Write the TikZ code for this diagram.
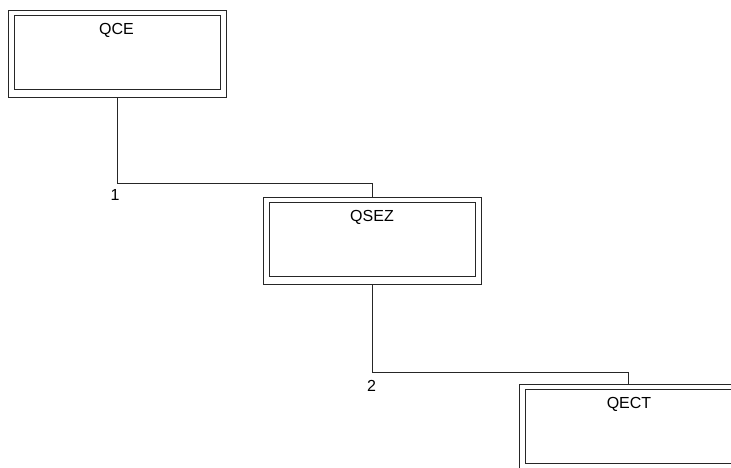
\documentclass[tikz,border=0pt]{standalone}
\usepackage{fontspec}
\setmainfont{Liberation Sans}
\begin{document}
\begin{tikzpicture}[x=1pt,y=-1pt,
  outerbox/.style={draw=black!85,line width=0.8pt,minimum width=218pt,minimum height=87pt,inner sep=0pt},
  innerbox/.style={draw=black!85,line width=0.8pt,minimum width=206pt,minimum height=74pt,inner sep=0pt},
  boxtext/.style={font=\fontsize{16}{18}\selectfont,inner sep=0pt,anchor=base},
  conn/.style={draw=black!85,line width=0.8pt},
  lbl/.style={font=\fontsize{16}{18}\selectfont,inner sep=0pt,anchor=base}]
\clip (0,0) rectangle (731,467);
\fill[white] (0,0) rectangle (731,467);
% QCE
\node[outerbox] (qce) at (117,53.5) {};
\node[innerbox] (qcein) at (117,52.5) {};
\node[boxtext] (qcet) at (116.5,34) {QCE};
% QSEZ
\node[outerbox] (qsez) at (372,240.5) {};
\node[innerbox] (qsezin) at (372,239.5) {};
\node[boxtext] (qsezt) at (372,221.5) {QSEZ};
% QECT
\node[outerbox] (qect) at (628,427.5) {};
\node[innerbox] (qectin) at (628,426.5) {};
\node[boxtext] (qectt) at (629,408) {QECT};
% connectors
\coordinate (j1) at (372,183.5);
\coordinate (j2) at (628,372.5);
\draw[conn] (qce.south) |- (j1) -- (qsez.north);
\draw[conn] (qsez.south) |- (j2) -- (qect.north);
% labels
\node[lbl] (l1) at (115,200) {1};
\node[lbl] (l2) at (371.5,391) {2};
\end{tikzpicture}
\end{document}
